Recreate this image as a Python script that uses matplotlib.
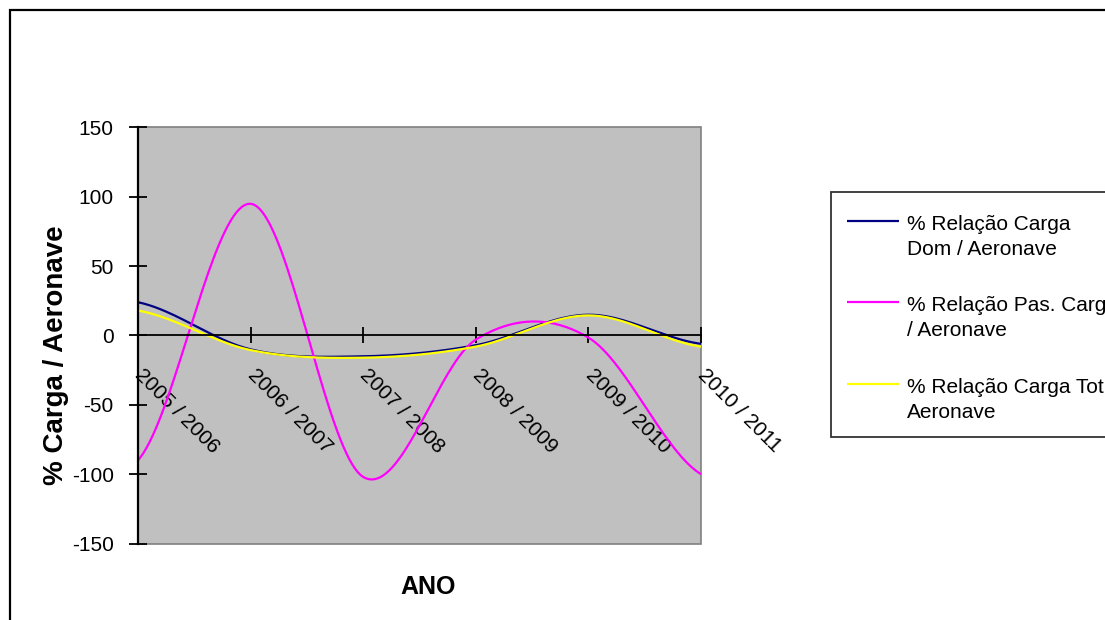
import numpy as np
import matplotlib
matplotlib.use("Agg")
import matplotlib.pyplot as plt
from matplotlib.legend_handler import HandlerLine2D
from matplotlib.lines import Line2D
from matplotlib.patches import Rectangle

plt.rcParams['font.family'] = ['Liberation Sans', 'DejaVu Sans']
plt.rcParams['axes.unicode_minus'] = False

anos = ['2005 / 2006', '2006 / 2007', '2007 / 2008',
        '2008 / 2009', '2009 / 2010', '2010 / 2011']
carga_dom = [24, -10, -15, -7, 15, -6]
pas_carga = [-90, 95, -102, -3, -1.5, -100]
carga_tot = [18, -10.5, -16, -8, 14.5, -8]

nomes = ['% Relação Carga\nDom / Aeronave',
         '% Relação Pas. Carga\n/ Aeronave',
         '% Relação Carga Tot /\nAeronave']
cores = ['#000080', '#FF00FF', '#FFFF00']


def suavizar(y, n=40):
    # curva suave tipo Catmull-Rom passando por todos os pontos
    y = np.asarray(y, dtype=float)
    p = np.concatenate([[y[0]], y, [y[-1]]])
    xs, ys = [], []
    for i in range(len(y) - 1):
        p0, p1, p2, p3 = p[i], p[i + 1], p[i + 2], p[i + 3]
        m1 = (p2 - p0) / 2
        m2 = (p3 - p1) / 2
        t = np.linspace(0, 1, n, endpoint=(i == len(y) - 2))
        h00 = 2 * t**3 - 3 * t**2 + 1
        h10 = t**3 - 2 * t**2 + t
        h01 = -2 * t**3 + 3 * t**2
        h11 = t**3 - t**2
        xs.append(i + t)
        ys.append(h00 * p1 + h10 * m1 + h01 * p2 + h11 * m2)
    return np.concatenate(xs), np.concatenate(ys)


class HandleNoTopo(HandlerLine2D):
    # alinha a linha da legenda com a primeira linha do texto
    def create_artists(self, legend, orig_handle, xdescent, ydescent,
                       width, height, fontsize, trans):
        arts = super().create_artists(legend, orig_handle, xdescent, ydescent,
                                      width, height, fontsize, trans)
        for a in arts:
            if isinstance(a, Line2D):
                a.set_ydata(np.asarray(a.get_ydata()) + 0.78 * fontsize)
        return arts


fig = plt.figure(figsize=(11.05, 6.2), dpi=100)
fig.patch.set_facecolor('white')
fig.add_artist(Rectangle((9.5 / 1105, -0.1), 1.2, 1.1 - 9.5 / 620,
                         transform=fig.transFigure, fill=False,
                         edgecolor='black', linewidth=1.6))

ax = fig.add_axes([138 / 1105, 1 - 543.5 / 620, 563 / 1105, 416 / 620])
ax.set_facecolor('#C0C0C0')
ax.patch.set_edgecolor('#808080')
ax.patch.set_linewidth(1.2)

ax.spines['top'].set_visible(False)
ax.spines['right'].set_visible(False)
ax.spines['bottom'].set_position(('data', 0))
ax.spines['bottom'].set_linewidth(1.3)
ax.spines['left'].set_linewidth(1.6)

x = np.arange(len(anos))
linhas = []
for serie, cor, nome in zip([carga_dom, pas_carga, carga_tot], cores, nomes):
    xs, ys = suavizar(serie)
    ln, = ax.plot(xs, ys, color=cor, linewidth=1.6, label=nome,
                  solid_capstyle='butt', clip_on=False)
    linhas.append(ln)

ax.set_xlim(0, 5)
ax.set_ylim(-150, 150)
ax.set_yticks(range(-150, 151, 50))
ax.set_xticks(x)
ax.set_xticklabels(anos, rotation=-45, ha='left', va='center',
                   rotation_mode='anchor', fontsize=15)
ax.tick_params(axis='y', direction='inout', length=13, width=1.3,
               labelsize=15, pad=11)
ax.tick_params(axis='x', direction='inout', length=12, width=1.3, pad=20)

fig.text(56 / 1105, 1 - 355 / 620, '% Carga / Aeronave', rotation=90,
         ha='center', va='center', fontsize=20, fontweight='bold')
fig.text(428 / 1105, 1 - 587 / 620, 'ANO', ha='center', va='center',
         fontsize=18, fontweight='bold')

leg = fig.legend(handles=linhas, loc='upper left',
                 bbox_to_anchor=(831 / 1105, 1 - 192 / 620),
                 fontsize=15, frameon=True, fancybox=False, shadow=False,
                 handlelength=2.5, handletextpad=0.4, labelspacing=1.8,
                 borderpad=0.75, borderaxespad=0,
                 title=' ', title_fontsize=6,
                 handler_map={Line2D: HandleNoTopo()})
leg._legend_box.sep = 0
leg.get_frame().set_edgecolor('black')
leg.get_frame().set_linewidth(1.3)
for t in leg.get_texts():
    t.set_linespacing(1.4)

fig.savefig('out.png', dpi=100)
